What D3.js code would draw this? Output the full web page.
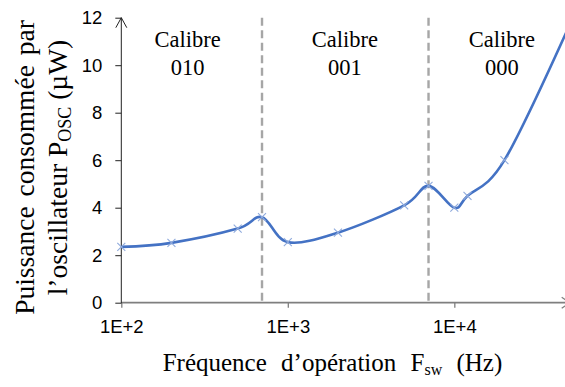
<!DOCTYPE html>
<html>
<head>
<meta charset="utf-8">
<script src="https://cdn.jsdelivr.net/npm/d3@7"></script>
<style>
  html, body { margin: 0; padding: 0; background: #fff; }
  svg { display: block; }
</style>
</head>
<body>
<svg id="chart" width="565" height="387"></svg>
<script>
// Oscillator power consumption versus operating frequency
const frequencies = [100, 200, 500, 700, 1000, 2000, 5000, 7000, 10000, 12000, 20000, 50000];
const powerUW     = [2.35, 2.52, 3.12, 3.6, 2.55, 2.95, 4.1, 4.92, 4.0, 4.5, 6.0, 11.8];

// Range boundaries (switching between calibres)
const calibreBounds = [700, 7000];
const calibreNames  = ["010", "001", "000"];
const calibreCenters = [250, 2200, 19300];

const yTicks = [0, 2, 4, 6, 8, 10, 12];
const xTicks = [100, 1000, 10000];

const svg = d3.select("#chart");
const serif = "'Liberation Serif', 'Times New Roman', serif";
const sans = "'Liberation Sans', Arial, sans-serif";

const x = d3.scaleLog().domain([100, 50000]).range([121.3, 570.7]);
const y = d3.scaleLinear().domain([0, 12]).range([302.7, 17.7]);

// dashed calibre boundaries
svg.append("g").selectAll("line")
  .data(calibreBounds).join("line")
  .attr("x1", d => x(d)).attr("x2", d => x(d))
  .attr("y1", y(12)).attr("y2", y(0))
  .attr("stroke", "#a6a6a6").attr("stroke-width", 2.4)
  .attr("stroke-dasharray", "8,4.5");

// x axis
const xAxis = svg.append("g")
  .attr("transform", `translate(0,${y(0)})`)
  .call(d3.axisBottom(x).tickValues(xTicks).tickSize(5).tickPadding(12)
    .tickFormat(d => "1E+" + Math.round(Math.log10(d))));
xAxis.select(".domain").remove();
xAxis.selectAll(".tick line").attr("stroke", "#7f7f7f").attr("stroke-width", 1.3);
xAxis.selectAll(".tick text").attr("font-family", sans).attr("font-size", 18.5).attr("fill", "#000");
svg.append("line")
  .attr("x1", x(100)).attr("x2", x(50000) - 1)
  .attr("y1", y(0)).attr("y2", y(0))
  .attr("stroke", "#7f7f7f").attr("stroke-width", 1.8);
svg.append("path")
  .attr("d", `M${x(50000) - 9},${y(0) - 5.5}L${x(50000) - 1},${y(0)}L${x(50000) - 9},${y(0) + 5.5}`)
  .attr("fill", "none").attr("stroke", "#7f7f7f").attr("stroke-width", 1.3);

// y axis
const yAxis = svg.append("g")
  .attr("transform", `translate(${x(100)},0)`)
  .call(d3.axisLeft(y).tickValues(yTicks).tickSize(6).tickPadding(13));
yAxis.select(".domain").remove();
yAxis.selectAll(".tick line").attr("stroke", "#222").attr("stroke-width", 1);
yAxis.selectAll(".tick text").attr("font-family", sans).attr("font-size", 18.5).attr("fill", "#000");
svg.append("line")
  .attr("x1", x(100)).attr("x2", x(100))
  .attr("y1", y(0) + 0.5).attr("y2", y(12))
  .attr("stroke", "#222").attr("stroke-width", 1);
svg.append("path")
  .attr("d", `M${x(100) - 5.5},${y(12) + 10}L${x(100)},${y(12)}L${x(100) + 5.5},${y(12) + 10}`)
  .attr("fill", "none").attr("stroke", "#222").attr("stroke-width", 1);

// calibre labels
const lab = svg.append("g").attr("font-family", serif).attr("font-size", 22.5)
  .attr("text-anchor", "middle").attr("fill", "#000");
calibreCenters.forEach((c, i) => {
  lab.append("text").attr("x", x(c)).attr("y", 47.3).text("Calibre");
  lab.append("text").attr("x", x(c)).attr("y", 74.5).text(calibreNames[i]);
});

// data series
const pts = frequencies.map((f, i) => [f, powerUW[i]]);
svg.append("path")
  .datum(pts)
  .attr("fill", "none")
  .attr("stroke", "#4472c4")
  .attr("stroke-width", 2.6)
  .attr("stroke-linejoin", "round")
  .attr("d", d3.line().x(d => x(d[0])).y(d => y(d[1])).curve(d3.curveCatmullRom.alpha(0)));

svg.append("g").selectAll("path")
  .data(pts).join("path")
  .attr("d", d => {
    const cx = x(d[0]), cy = y(d[1]), r = 4;
    return `M${cx - r},${cy - r}L${cx + r},${cy + r}M${cx - r},${cy + r}L${cx + r},${cy - r}`;
  })
  .attr("stroke", "#8faadc").attr("stroke-width", 1.1).attr("fill", "none");

// axis titles
const xt = svg.append("text")
  .attr("x", 332.5).attr("y", 371)
  .attr("text-anchor", "middle")
  .attr("font-family", serif).attr("font-size", 25)
  .attr("word-spacing", "8px").attr("fill", "#000");
xt.append("tspan").text("Fréquence d’opération F");
xt.append("tspan").attr("font-size", 16).attr("dy", 4).text("sw");
xt.append("tspan").attr("dy", -4).text(" (Hz)");

const yt = svg.append("g")
  .attr("transform", "translate(0,167.5) rotate(-90)")
  .attr("font-family", serif).attr("font-size", 27.5)
  .attr("text-anchor", "middle").attr("fill", "#000");
yt.append("text").attr("x", 0).attr("y", 33.5).attr("word-spacing", "3px").text("Puissance consommée par");
const l2 = yt.append("text").attr("x", 0).attr("y", 67);
l2.append("tspan").text("l’oscillateur P");
l2.append("tspan").attr("font-size", 18).attr("dy", 4).text("OSC");
l2.append("tspan").attr("dy", -4).text(" (µW)");
</script>
</body>
</html>
